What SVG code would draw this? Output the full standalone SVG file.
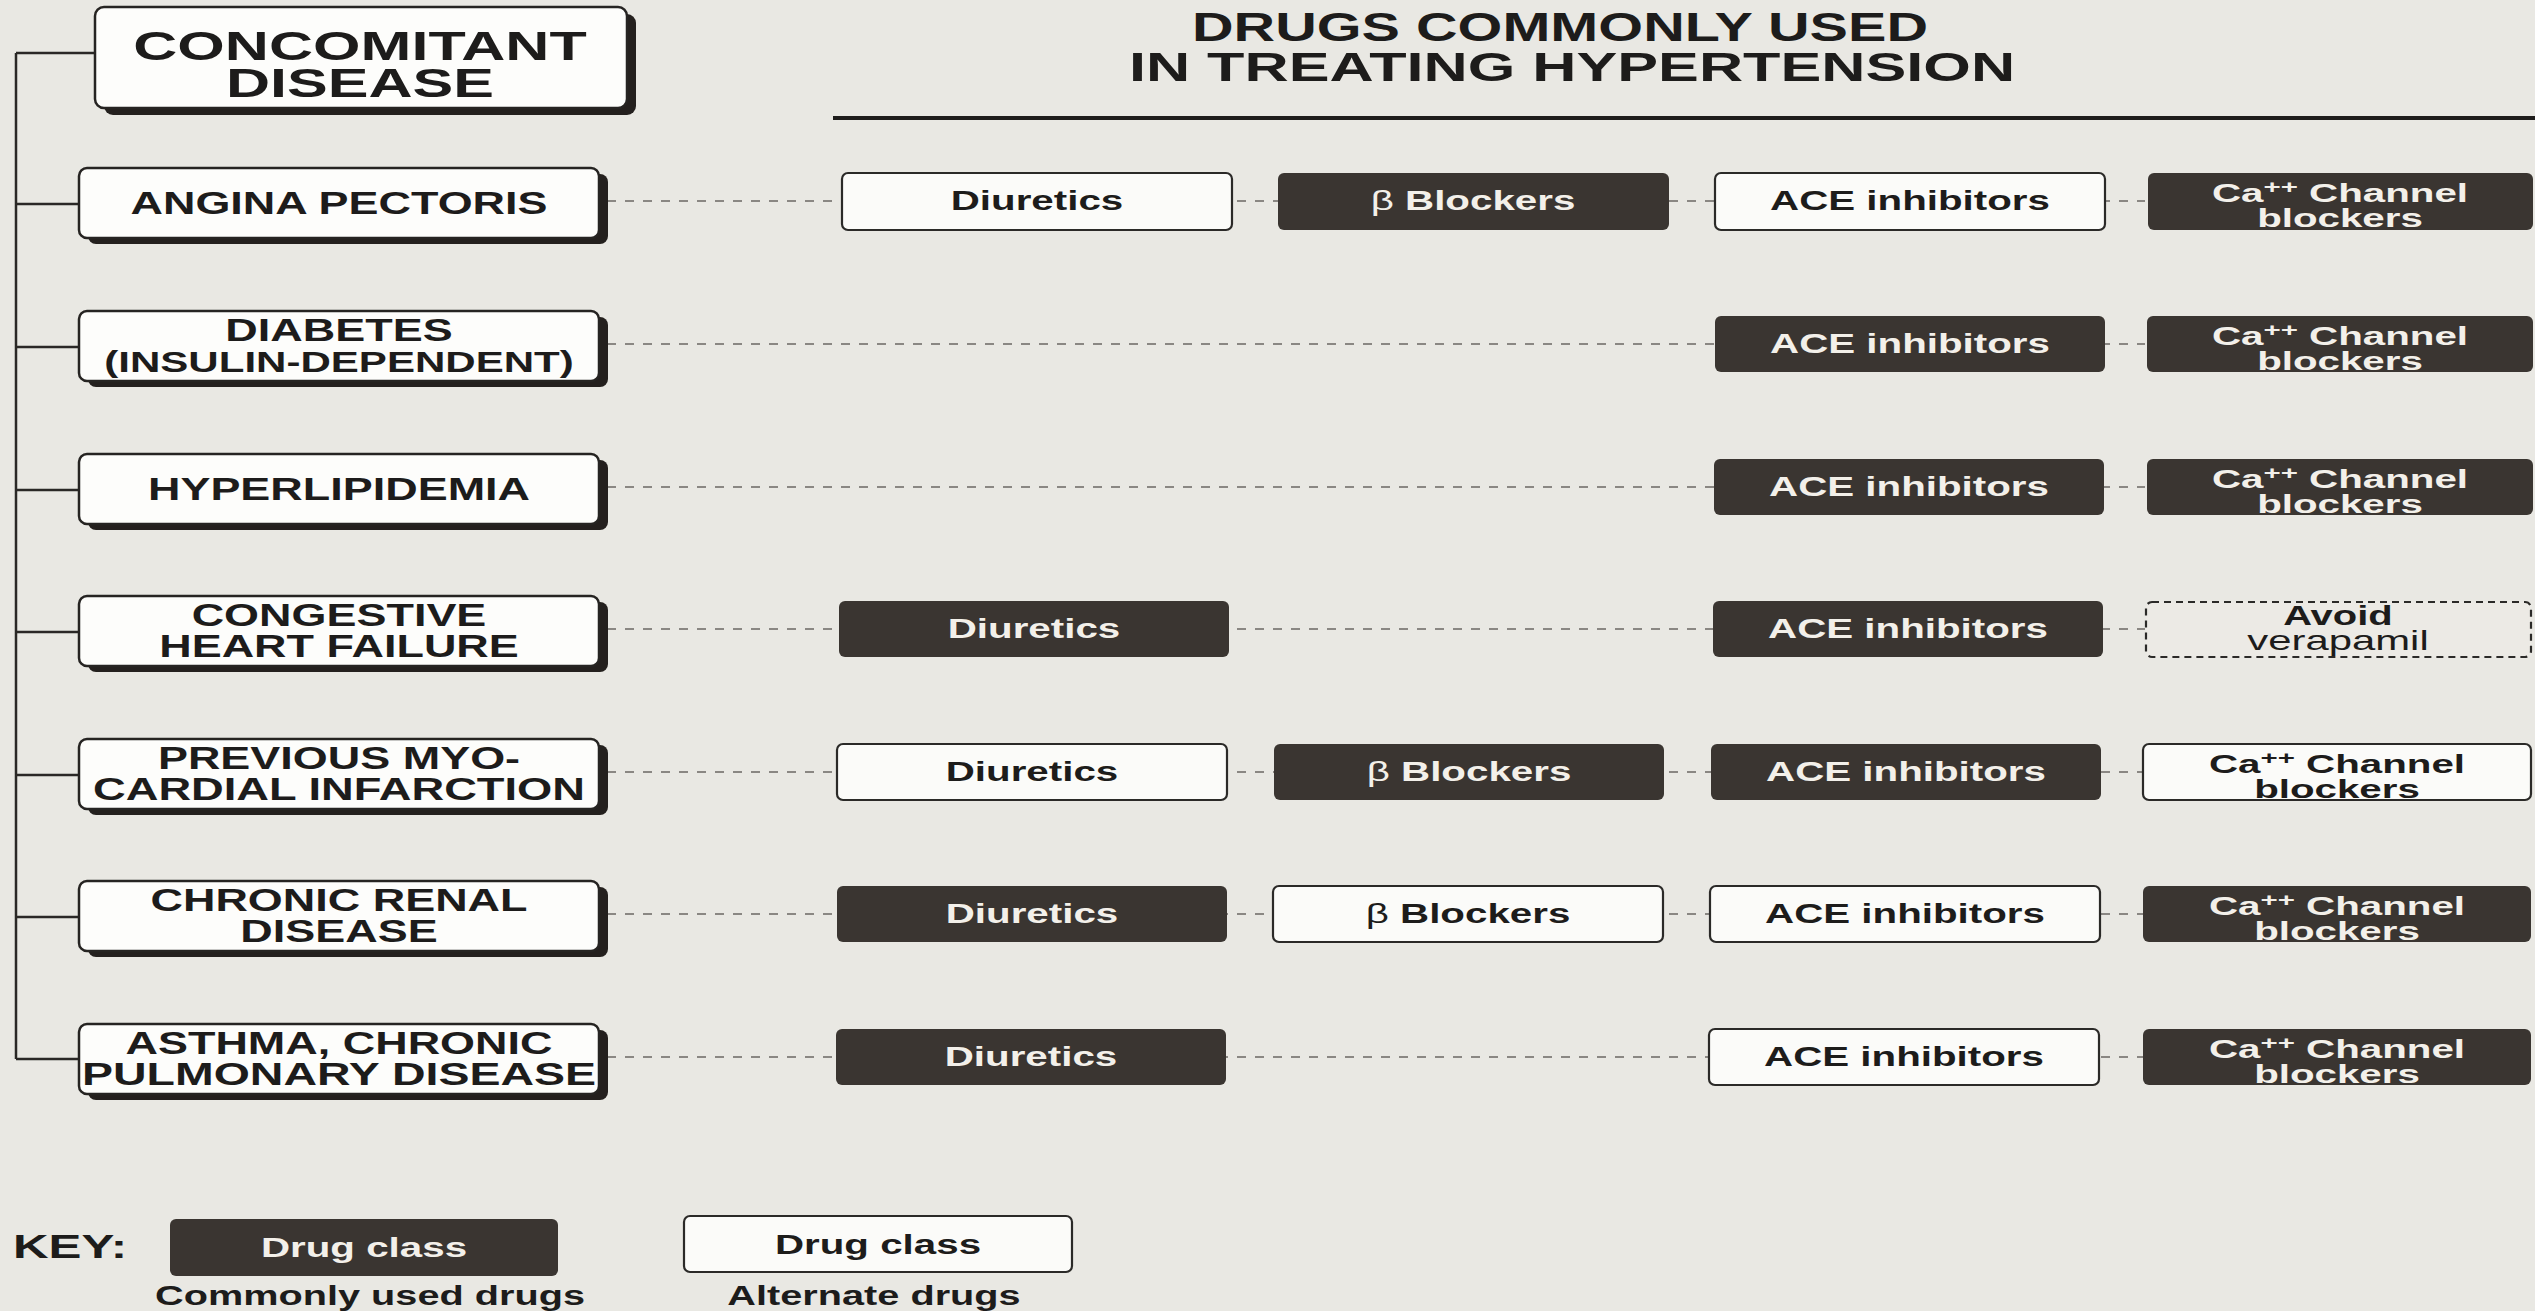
<svg xmlns="http://www.w3.org/2000/svg" width="2535" height="1311" viewBox="0 0 2535 1311">
  <style>
    .t { font-family: "Liberation Sans", Arial, sans-serif; font-weight: bold; text-anchor: middle; }
    .dis { fill: #fdfdfb; stroke: #262422; stroke-width: 2.5; }
    .shadow { fill: #24201e; }
    .dk { fill: #3a3531; }
    .lt { fill: #fbfbf9; stroke: #2b2a28; stroke-width: 2.2; }
    .avoid { fill: none; stroke: #2b2a28; stroke-width: 2.2; stroke-dasharray: 7 5; }
    .ink { fill: #1d1c1b; }
    .rev { fill: #f3f0ea; }
    .tree { stroke: #2a2826; stroke-width: 2.5; fill: none; }
    .dash { stroke: #8a8783; stroke-width: 1.8; stroke-dasharray: 9 9; fill: none; }
  </style>

  <rect width="2535" height="1311" fill="#e9e8e3"/>

  <!-- headings -->
  <g id="heading-drugs">
    <text class="t ink" font-size="40" transform="translate(1560 41) scale(1.44 1)">DRUGS COMMONLY USED</text>
    <text class="t ink" font-size="40" transform="translate(1572 81) scale(1.53 1)">IN TREATING HYPERTENSION</text>
    <line x1="833" y1="118" x2="2535" y2="118" stroke="#1f1d1c" stroke-width="4"/>
  </g>

  <!-- connectors: tree on the left, dashed rows to the drug classes -->
  <g id="connectors">
    <path class="tree" d="M16 53 V1059 M16 53 H95 M16 204 H78 M16 347 H78 M16 490 H78 M16 632 H78 M16 775 H78 M16 917 H78 M16 1059 H78"/>
    <path class="dash" d="M607 201 H2145 M607 344 H2145 M607 487 H2145 M607 629 H2145 M607 772 H2145 M607 914 H2145 M607 1057 H2145"/>
  </g>

  <!-- disease column -->
  <g id="concomitant-disease">
    <rect class="shadow" x="104" y="14" width="532" height="101" rx="9"/>
    <rect class="dis" x="95" y="7" width="532" height="101" rx="9"/>
    <text class="t ink" font-size="41" transform="translate(360 60) scale(1.49 1)">CONCOMITANT</text>
    <text class="t ink" font-size="41" transform="translate(360 97) scale(1.49 1)">DISEASE</text>
  </g>
  <g id="angina-pectoris">
    <rect class="shadow" x="88" y="174" width="520" height="70" rx="8"/>
    <rect class="dis" x="79" y="168" width="520" height="70" rx="8"/>
    <text class="t ink" font-size="31" transform="translate(339 214) scale(1.45 1)">ANGINA PECTORIS</text>
  </g>
  <g id="diabetes">
    <rect class="shadow" x="88" y="317" width="520" height="70" rx="8"/>
    <rect class="dis" x="79" y="311" width="520" height="70" rx="8"/>
    <text class="t ink" font-size="31" transform="translate(339 341) scale(1.45 1)">DIABETES</text>
    <text class="t ink" font-size="29" transform="translate(339 372) scale(1.45 1)">(INSULIN-DEPENDENT)</text>
  </g>
  <g id="hyperlipidemia">
    <rect class="shadow" x="88" y="460" width="520" height="70" rx="8"/>
    <rect class="dis" x="79" y="454" width="520" height="70" rx="8"/>
    <text class="t ink" font-size="31" transform="translate(339 500) scale(1.45 1)">HYPERLIPIDEMIA</text>
  </g>
  <g id="congestive-heart-failure">
    <rect class="shadow" x="88" y="602" width="520" height="70" rx="8"/>
    <rect class="dis" x="79" y="596" width="520" height="70" rx="8"/>
    <text class="t ink" font-size="31" transform="translate(339 626) scale(1.45 1)">CONGESTIVE</text>
    <text class="t ink" font-size="31" transform="translate(339 657) scale(1.45 1)">HEART FAILURE</text>
  </g>
  <g id="previous-mi">
    <rect class="shadow" x="88" y="745" width="520" height="70" rx="8"/>
    <rect class="dis" x="79" y="739" width="520" height="70" rx="8"/>
    <text class="t ink" font-size="31" transform="translate(339 769) scale(1.45 1)">PREVIOUS MYO-</text>
    <text class="t ink" font-size="31" transform="translate(339 800) scale(1.46 1)">CARDIAL INFARCTION</text>
  </g>
  <g id="chronic-renal-disease">
    <rect class="shadow" x="88" y="887" width="520" height="70" rx="8"/>
    <rect class="dis" x="79" y="881" width="520" height="70" rx="8"/>
    <text class="t ink" font-size="31" transform="translate(339 911) scale(1.45 1)">CHRONIC RENAL</text>
    <text class="t ink" font-size="31" transform="translate(339 942) scale(1.45 1)">DISEASE</text>
  </g>
  <g id="asthma-copd">
    <rect class="shadow" x="88" y="1030" width="520" height="70" rx="8"/>
    <rect class="dis" x="79" y="1024" width="520" height="70" rx="8"/>
    <text class="t ink" font-size="31" transform="translate(339 1054) scale(1.45 1)">ASTHMA, CHRONIC</text>
    <text class="t ink" font-size="31" transform="translate(339 1085) scale(1.5 1)">PULMONARY DISEASE</text>
  </g>

  <!-- row 1: angina pectoris -->
  <g id="r1-diuretics">
    <rect class="lt" x="842" y="173" width="390" height="57" rx="6"/>
    <text class="t ink" font-size="28" transform="translate(1037 210) scale(1.44 1)">Diuretics</text>
  </g>
  <g id="r1-beta">
    <rect class="dk" x="1278" y="173" width="391" height="57" rx="6"/>
    <text class="t rev" font-size="28" transform="translate(1473 210) scale(1.44 1)"><tspan font-weight="normal">β</tspan> Blockers</text>
  </g>
  <g id="r1-ace">
    <rect class="lt" x="1715" y="173" width="390" height="57" rx="6"/>
    <text class="t ink" font-size="28" transform="translate(1910 210) scale(1.44 1)">ACE inhibitors</text>
  </g>
  <g id="r1-ca">
    <rect class="dk" x="2148" y="173" width="385" height="57" rx="6"/>
    <text class="t rev" font-size="26" transform="translate(2340 202) scale(1.55 1)">Ca<tspan font-size="19" dy="-9">++</tspan><tspan dy="9"> Channel</tspan></text>
    <text class="t rev" font-size="26" transform="translate(2340 227) scale(1.55 1)">blockers</text>
  </g>

  <!-- row 2: diabetes -->
  <g id="r2-ace">
    <rect class="dk" x="1715" y="316" width="390" height="56" rx="6"/>
    <text class="t rev" font-size="28" transform="translate(1910 353) scale(1.44 1)">ACE inhibitors</text>
  </g>
  <g id="r2-ca">
    <rect class="dk" x="2147" y="316" width="386" height="56" rx="6"/>
    <text class="t rev" font-size="26" transform="translate(2340 345) scale(1.55 1)">Ca<tspan font-size="19" dy="-9">++</tspan><tspan dy="9"> Channel</tspan></text>
    <text class="t rev" font-size="26" transform="translate(2340 370) scale(1.55 1)">blockers</text>
  </g>

  <!-- row 3: hyperlipidemia -->
  <g id="r3-ace">
    <rect class="dk" x="1714" y="459" width="390" height="56" rx="6"/>
    <text class="t rev" font-size="28" transform="translate(1909 496) scale(1.44 1)">ACE inhibitors</text>
  </g>
  <g id="r3-ca">
    <rect class="dk" x="2147" y="459" width="386" height="56" rx="6"/>
    <text class="t rev" font-size="26" transform="translate(2340 488) scale(1.55 1)">Ca<tspan font-size="19" dy="-9">++</tspan><tspan dy="9"> Channel</tspan></text>
    <text class="t rev" font-size="26" transform="translate(2340 513) scale(1.55 1)">blockers</text>
  </g>

  <!-- row 4: congestive heart failure -->
  <g id="r4-diuretics">
    <rect class="dk" x="839" y="601" width="390" height="56" rx="6"/>
    <text class="t rev" font-size="28" transform="translate(1034 638) scale(1.44 1)">Diuretics</text>
  </g>
  <g id="r4-ace">
    <rect class="dk" x="1713" y="601" width="390" height="56" rx="6"/>
    <text class="t rev" font-size="28" transform="translate(1908 638) scale(1.44 1)">ACE inhibitors</text>
  </g>
  <g id="r4-avoid">
    <rect fill="#eceae5" x="2146" y="602" width="385" height="55" rx="6"/>
    <rect class="avoid" x="2146" y="602" width="385" height="55" rx="6"/>
    <text class="t ink" font-size="27" transform="translate(2338 625) scale(1.48 1)">Avoid</text>
    <text class="t ink" font-size="27" transform="translate(2338 650) scale(1.55 1)" style="font-weight:normal">verapamil</text>
  </g>

  <!-- row 5: previous myocardial infarction -->
  <g id="r5-diuretics">
    <rect class="lt" x="837" y="744" width="390" height="56" rx="6"/>
    <text class="t ink" font-size="28" transform="translate(1032 781) scale(1.44 1)">Diuretics</text>
  </g>
  <g id="r5-beta">
    <rect class="dk" x="1274" y="744" width="390" height="56" rx="6"/>
    <text class="t rev" font-size="28" transform="translate(1469 781) scale(1.44 1)"><tspan font-weight="normal">β</tspan> Blockers</text>
  </g>
  <g id="r5-ace">
    <rect class="dk" x="1711" y="744" width="390" height="56" rx="6"/>
    <text class="t rev" font-size="28" transform="translate(1906 781) scale(1.44 1)">ACE inhibitors</text>
  </g>
  <g id="r5-ca">
    <rect class="lt" x="2143" y="744" width="388" height="56" rx="6"/>
    <text class="t ink" font-size="26" transform="translate(2337 773) scale(1.55 1)">Ca<tspan font-size="19" dy="-9">++</tspan><tspan dy="9"> Channel</tspan></text>
    <text class="t ink" font-size="26" transform="translate(2337 798) scale(1.55 1)">blockers</text>
  </g>

  <!-- row 6: chronic renal disease -->
  <g id="r6-diuretics">
    <rect class="dk" x="837" y="886" width="390" height="56" rx="6"/>
    <text class="t rev" font-size="28" transform="translate(1032 923) scale(1.44 1)">Diuretics</text>
  </g>
  <g id="r6-beta">
    <rect class="lt" x="1273" y="886" width="390" height="56" rx="6"/>
    <text class="t ink" font-size="28" transform="translate(1468 923) scale(1.44 1)"><tspan font-weight="normal">β</tspan> Blockers</text>
  </g>
  <g id="r6-ace">
    <rect class="lt" x="1710" y="886" width="390" height="56" rx="6"/>
    <text class="t ink" font-size="28" transform="translate(1905 923) scale(1.44 1)">ACE inhibitors</text>
  </g>
  <g id="r6-ca">
    <rect class="dk" x="2143" y="886" width="388" height="56" rx="6"/>
    <text class="t rev" font-size="26" transform="translate(2337 915) scale(1.55 1)">Ca<tspan font-size="19" dy="-9">++</tspan><tspan dy="9"> Channel</tspan></text>
    <text class="t rev" font-size="26" transform="translate(2337 940) scale(1.55 1)">blockers</text>
  </g>

  <!-- row 7: asthma, chronic pulmonary disease -->
  <g id="r7-diuretics">
    <rect class="dk" x="836" y="1029" width="390" height="56" rx="6"/>
    <text class="t rev" font-size="28" transform="translate(1031 1066) scale(1.44 1)">Diuretics</text>
  </g>
  <g id="r7-ace">
    <rect class="lt" x="1709" y="1029" width="390" height="56" rx="6"/>
    <text class="t ink" font-size="28" transform="translate(1904 1066) scale(1.44 1)">ACE inhibitors</text>
  </g>
  <g id="r7-ca">
    <rect class="dk" x="2143" y="1029" width="388" height="56" rx="6"/>
    <text class="t rev" font-size="26" transform="translate(2337 1058) scale(1.55 1)">Ca<tspan font-size="19" dy="-9">++</tspan><tspan dy="9"> Channel</tspan></text>
    <text class="t rev" font-size="26" transform="translate(2337 1083) scale(1.55 1)">blockers</text>
  </g>

  <!-- key -->
  <g id="key">
    <text class="t ink" font-size="34" style="text-anchor:start" transform="translate(13 1258) scale(1.45 1)">KEY:</text>
    <rect class="dk" x="170" y="1219" width="388" height="57" rx="6"/>
    <text class="t rev" font-size="28" transform="translate(364 1257) scale(1.44 1)">Drug class</text>
    <text class="t ink" font-size="27" transform="translate(370 1305) scale(1.47 1)">Commonly used drugs</text>
    <rect class="lt" x="684" y="1216" width="388" height="56" rx="6"/>
    <text class="t ink" font-size="28" transform="translate(878 1254) scale(1.44 1)">Drug class</text>
    <text class="t ink" font-size="27" transform="translate(874 1305) scale(1.47 1)">Alternate drugs</text>
  </g>
</svg>
